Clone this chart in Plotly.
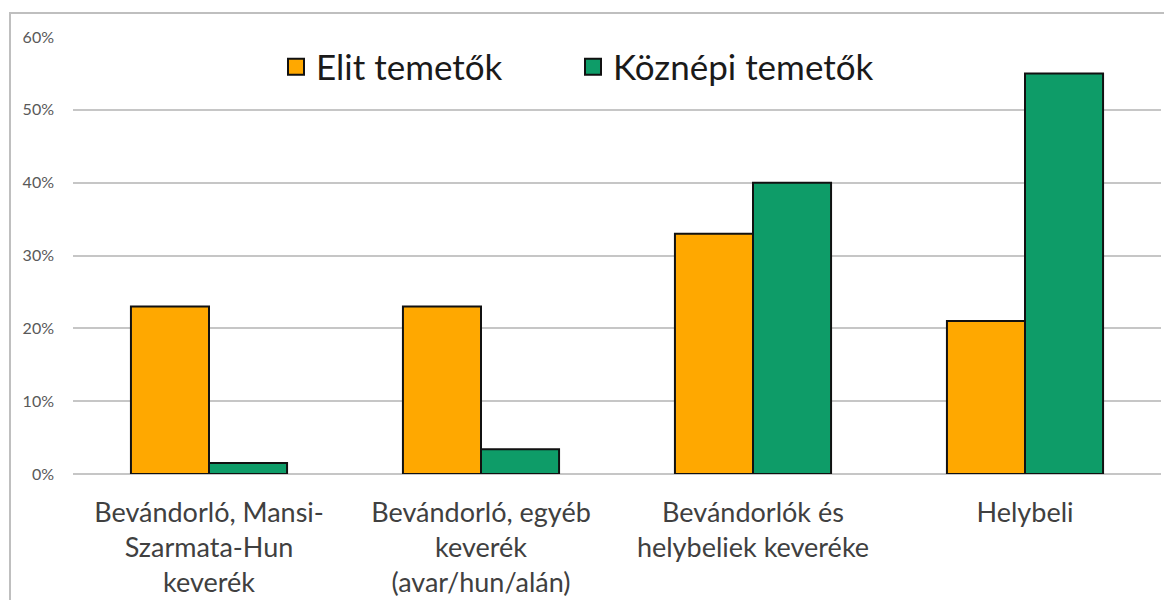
import plotly.graph_objects as go

categories = [
    "Bevándorló, Mansi-<br>Szarmata-Hun<br>keverék",
    "Bevándorló, egyéb<br>keverék<br>(avar/hun/alán)",
    "Bevándorlók és<br>helybeliek keveréke",
    "Helybeli",
]
elite = [23, 23, 33, 21]
common = [1.5, 3.4, 40, 55]
series_names = ["Elit temetők", "Köznépi temetők"]
colors = ["#FFA800", "#0E9C68"]
y_ticks = [0, 10, 20, 30, 40, 50, 60]
y_ticklabels = ["0%", "10%", "20%", "30%", "40%", "50%", "60%"]

OFF = 8  # browser body margin
W, H = 1172 - OFF, 600 - OFF
L, T = 73 - OFF, 37 - OFF
pw, ph = 1088, 437
R = W - L - pw
B = H - T - ph

fig = go.Figure()
for name, vals, col in zip(series_names, [elite, common], colors):
    fig.add_trace(go.Bar(
        x=categories, y=vals, name=name, showlegend=False,
        marker=dict(color=col, line=dict(color="#111111", width=2)),
    ))
# legend entries with larger square swatches, each in its own legend box
legend_ids = ["legend", "legend2"]
for name, col, lg in zip(series_names, colors, legend_ids):
    fig.add_trace(go.Scatter(
        x=[None], y=[None], mode="markers", name=name, legend=lg,
        marker=dict(symbol="square", size=16, color=col,
                    line=dict(color="#111111", width=2)),
    ))

# outer chart border (partially cropped)
bx = (10 - 73) / pw
by = 1 + (37 - 13) / ph
fig.add_shape(type="rect", xref="paper", yref="paper",
              x0=bx, y0=-0.6, x1=1.2, y1=by,
              line=dict(color="#BFBFBF", width=2), layer="below")

legend_style = dict(
    orientation="h", xanchor="left", yanchor="middle",
    y=1 - (67 - 37) / ph,
    font=dict(size=35, color="#1a1a1a"),
    itemwidth=30, bgcolor="rgba(0,0,0,0)", itemsizing="trace",
)
fig.update_layout(
    width=W, height=H,
    margin=dict(l=L, r=R, t=T, b=B),
    paper_bgcolor="white", plot_bgcolor="white",
    barmode="group", bargap=0.426, bargroupgap=0,
    font=dict(family="Lato, Open Sans, sans-serif", color="#404040"),
    legend=dict(x=(276 - 73) / pw, **legend_style),
    legend2=dict(x=(573 - 73) / pw, **legend_style),
    showlegend=True,
)
fig.update_xaxes(
    showgrid=False, showline=False, ticks="", automargin=False,
    tickfont=dict(size=27, color="#404040"),
    ticklabelstandoff=20,
)
fig.update_yaxes(
    range=[0, 60], tickvals=y_ticks, ticktext=y_ticklabels, automargin=False,
    showgrid=True, gridcolor="#C6C6C6", gridwidth=2,
    zeroline=True, zerolinecolor="#C6C6C6", zerolinewidth=2,
    showline=False, ticks="",
    tickfont=dict(size=16, color="#595959"),
    ticklabelstandoff=18,
)
fig.write_html("out.html")
